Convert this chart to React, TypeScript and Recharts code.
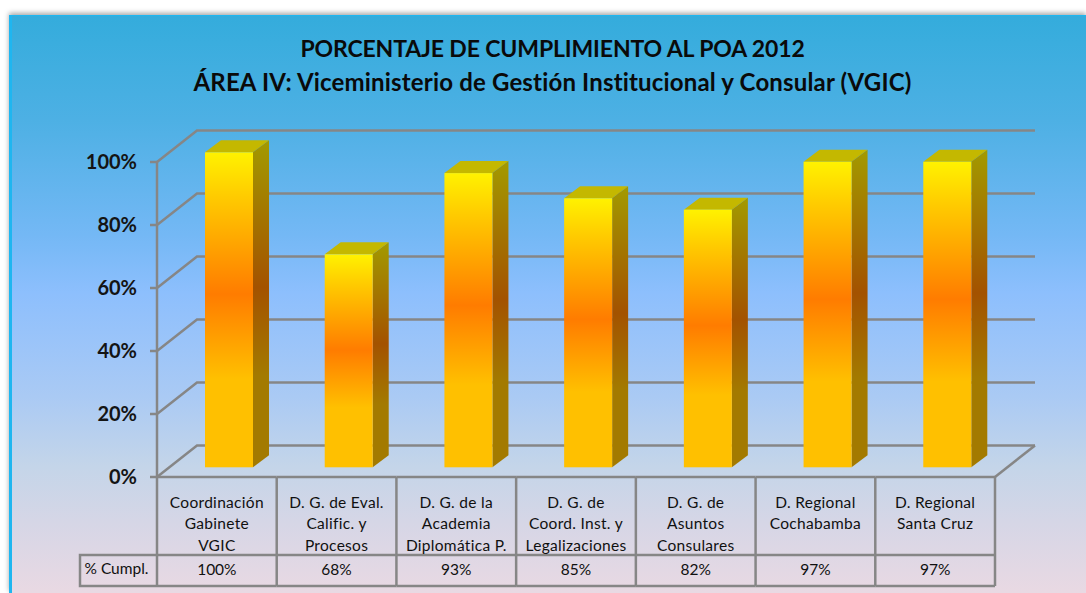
import React from 'react';
import { BarChart, Bar, XAxis, YAxis, CartesianGrid } from 'recharts';

const categories = [
  ['Coordinación', 'Gabinete', 'VGIC'],
  ['D. G. de Eval.', 'Calific. y', 'Procesos'],
  ['D. G. de la', 'Academia', 'Diplomática P.'],
  ['D. G. de', 'Coord. Inst. y', 'Legalizaciones'],
  ['D. G. de', 'Asuntos', 'Consulares'],
  ['D. Regional', 'Cochabamba'],
  ['D. Regional', 'Santa Cruz'],
];
// bar heights; the table shows them rounded
const cumplimiento = [100, 67.6, 93.4, 85.4, 81.8, 97, 97];
const tableLabels = ['100%', '68%', '93%', '85%', '82%', '97%', '97%'];
const yTicks = [0, 20, 40, 60, 80, 100];

const chartData = categories.map((lines, i) => ({ name: lines.join(' '), value: cumplimiento[i] }));

const GRID = '#868686';
const LINE = 2.5;
const FONT = 'Lato, sans-serif';
const DEPTH_X = 40;
const DEPTH_Y = 31.5;
const BAND = 838 / 7;

// grid line running along the back wall, with its diagonal on the left side
const wallLine = (props: any) => {
  const { x1, x2, y1, index } = props;
  const backY = y1 - DEPTH_Y;
  const isFloor = y1 > 470;
  return (
    <g key={`wall-${index}`} fill="none" stroke={GRID} strokeWidth={LINE}>
      <polyline points={`${x1},${y1} ${x1 + DEPTH_X},${backY} ${x2 + DEPTH_X},${backY}`} />
      {isFloor && <line x1={x2} y1={y1} x2={x2 + DEPTH_X} y2={backY} />}
    </g>
  );
};

// 3D column: front face comes from the scale, shifted into the floor
const Column3D = (props: any) => {
  const { x, y, width, height } = props;
  const left = x + 12;
  const top = y - 9.7;
  const right = left + width;
  const bottom = top + height;
  const dx = 16;
  const dy = 12;
  return (
    <g>
      <polygon
        points={`${left},${top} ${left + dx},${top - dy} ${right + dx},${top - dy} ${right},${top}`}
        fill="#c4b800"
      />
      <polygon
        points={`${right},${top} ${right + dx},${top - dy} ${right + dx},${bottom - dy} ${right},${bottom}`}
        fill="url(#sideFill)"
      />
      <rect x={left} y={top} width={width} height={height} fill="url(#frontFill)" />
    </g>
  );
};

// x axis tick: one column of the data table under the chart
const TableTick = (props: any) => {
  const { x, y, payload } = props;
  const i = payload.index;
  const left = x - BAND / 2;
  const right = x + BAND / 2;
  const lines = categories[i];
  return (
    <g fontFamily={FONT} fill="#101010" textAnchor="middle">
      <g stroke={GRID} strokeWidth={LINE} fill="none">
        <line x1={left} y1={y} x2={right} y2={y} />
        <line x1={right} y1={y} x2={right} y2={y + 109} />
        {i === 0 && <line x1={left} y1={y} x2={left} y2={y + 109} />}
        {i === 0 && (
          <polyline points={`${left},${y + 78} 80,${y + 78} 80,${y + 109} ${left},${y + 109}`} />
        )}
        <line x1={left} y1={y + 78} x2={right} y2={y + 78} />
        <line x1={left} y1={y + 109} x2={right} y2={y + 109} />
      </g>
      {lines.map((line, n) => (
        <text key={n} x={x} y={y + 30.5 + n * 21.5} fontSize={15.5} letterSpacing={0.3}>
          {line}
        </text>
      ))}
      <text x={x} y={y + 98} fontSize={15.5}>
        {tableLabels[i]}
      </text>
      {i === 0 && (
        <text x={116.5} y={y + 97} fontSize={15.5}>
          % Cumpl.
        </text>
      )}
    </g>
  );
};

export default function App() {
  return (
    <div style={{ position: 'fixed', left: 0, top: 0, width: 1086, height: 593, background: '#fff', overflow: 'hidden' }}>
      <div
        style={{
          position: 'absolute',
          left: 9,
          top: 15,
          width: 1077,
          height: 578,
          boxSizing: 'border-box',
          borderLeft: '3px solid #1fb6f0',
          borderTop: '1px solid #1fb6f0',
          boxShadow: '0 -2px 5px rgba(0,0,0,0.35)',
          background:
            'linear-gradient(180deg, #34acdc 0%, #4db0e4 18%, #74b8f5 38%, #8dbffd 48%, #aacaf4 66%, #c4d5e9 78%, #d6d6e6 88%, #e9d9e3 100%)',
        }}
      />
      <div
        style={{
          position: 'absolute',
          left: 0,
          top: 32,
          width: 1105,
          textAlign: 'center',
          fontFamily: FONT,
          fontWeight: 700,
          lineHeight: '33px',
          color: '#0a0a0a',
          fontVariantLigatures: 'none',
        }}
      >
        <div style={{ fontSize: 23, letterSpacing: -0.13 }}>PORCENTAJE DE CUMPLIMIENTO AL POA 2012</div>
        <div style={{ fontSize: 24, letterSpacing: 0.17 }}>
          ÁREA IV: Viceministerio de Gestión Institucional y Consular (VGIC)
        </div>
      </div>
      <div style={{ position: 'absolute', left: 0, top: 0 }}>
        <BarChart
          width={1086}
          height={593}
          data={chartData}
          margin={{ top: 162, right: 91, bottom: 0, left: 0 }}
          barSize={48}
        >
          <defs>
            <linearGradient id="frontFill" x1="0" y1="0" x2="0" y2="1">
              <stop offset="0" stopColor="#fff200" />
              <stop offset="0.14" stopColor="#ffcb00" />
              <stop offset="0.45" stopColor="#ff7c00" />
              <stop offset="0.72" stopColor="#ffc000" />
              <stop offset="1" stopColor="#ffc000" />
            </linearGradient>
            <linearGradient id="sideFill" x1="0" y1="0" x2="0" y2="1">
              <stop offset="0" stopColor="#a39a00" />
              <stop offset="0.45" stopColor="#a35200" />
              <stop offset="0.72" stopColor="#a37a00" />
              <stop offset="1" stopColor="#a37a00" />
            </linearGradient>
          </defs>
          <CartesianGrid vertical={false} horizontal={wallLine} stroke={GRID} />
          <XAxis
            dataKey="name"
            interval={0}
            height={116}
            axisLine={false}
            tickLine={false}
            tickSize={0}
            tickMargin={0}
            tick={TableTick}
          />
          <YAxis
            width={157}
            domain={[0, 100]}
            ticks={yTicks}
            tickFormatter={(v: number) => `${v}%`}
            axisLine={{ stroke: GRID, strokeWidth: LINE }}
            tickLine={{ stroke: GRID, strokeWidth: LINE }}
            tickSize={7}
            tickMargin={13}
            tick={{ fontFamily: FONT, fontSize: 20, fontWeight: 700, fill: '#141414' }}
          />
          <Bar dataKey="value" isAnimationActive={false} shape={Column3D} />
        </BarChart>
      </div>
    </div>
  );
}
